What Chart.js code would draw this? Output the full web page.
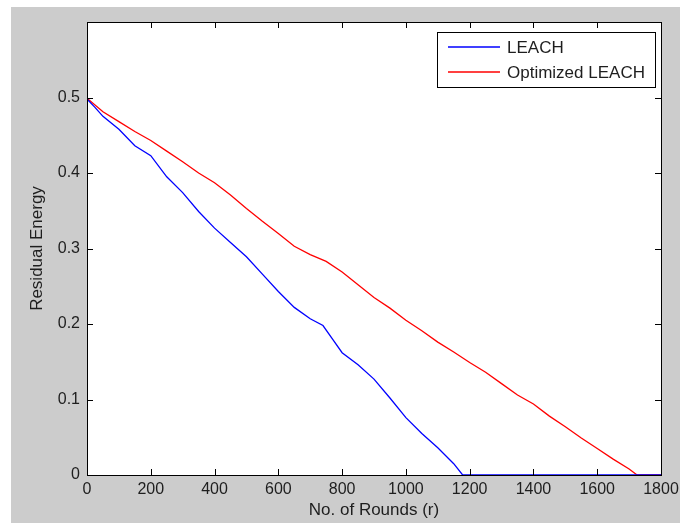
<!DOCTYPE html>
<html>
<head>
<meta charset="utf-8">
<script src="https://cdn.jsdelivr.net/npm/chart.js@4/dist/chart.umd.min.js"></script>
<style>
  html, body { margin: 0; padding: 0; background: #ffffff; }
  #wrap { width: 680px; height: 523px; }
</style>
</head>
<body>
<div id="wrap"><canvas id="plotCanvas" width="680" height="523"></canvas></div>
<script>
// rounds and residual energy
const leachRounds = [0, 25, 50, 100, 150, 200, 250, 300, 350, 400, 450, 500, 550, 600, 650, 700, 740, 770, 800, 850, 900, 950, 1000, 1050, 1100, 1150, 1178, 1800];
const leachEnergy = [0.498, 0.487, 0.475, 0.458, 0.436, 0.423, 0.395, 0.374, 0.349, 0.327, 0.308, 0.289, 0.266, 0.243, 0.222, 0.207, 0.198, 0.180, 0.162, 0.146, 0.127, 0.102, 0.076, 0.055, 0.036, 0.015, 0, 0];

const optRounds = [0, 50, 100, 150, 200, 250, 300, 350, 400, 450, 500, 550, 600, 650, 700, 750, 800, 850, 900, 950, 1000, 1050, 1100, 1150, 1200, 1250, 1300, 1350, 1400, 1450, 1500, 1550, 1600, 1650, 1700, 1725, 1800];
const optEnergy = [0.499, 0.481, 0.468, 0.455, 0.443, 0.429, 0.415, 0.400, 0.387, 0.371, 0.353, 0.336, 0.320, 0.303, 0.292, 0.283, 0.269, 0.252, 0.235, 0.221, 0.205, 0.191, 0.176, 0.163, 0.149, 0.136, 0.121, 0.106, 0.094, 0.078, 0.064, 0.049, 0.035, 0.021, 0.008, 0, 0];

const seriesLabels = ['LEACH', 'Optimized LEACH'];
const seriesColors = ['#0000ff', '#ff0000'];

const xTitle = 'No. of Rounds (r)';
const yTitle = 'Residual Energy';

const FONT = "'Liberation Sans', Arial, sans-serif";
const TEXT = '#1e1e1e';

function toPoints(xs, ys) {
    return xs.map((x, i) => ({ x: x, y: ys[i] }));
}

// figure background: white strip on top/left, MATLAB grey elsewhere
const figureBg = {
    id: 'figureBg',
    beforeDraw(chart) {
        const ctx = chart.ctx;
        ctx.save();
        ctx.fillStyle = '#ffffff';
        ctx.fillRect(0, 0, chart.width, chart.height);
        ctx.fillStyle = '#cccccc';
        ctx.fillRect(11, 7, chart.width - 11, chart.height - 7);
        const a = chart.chartArea;
        ctx.fillStyle = '#ffffff';
        ctx.fillRect(a.left, a.top, a.right - a.left, a.bottom - a.top);
        ctx.restore();
    }
};

// axes box with inward ticks on all four sides, plus the legend box
const axesBox = {
    id: 'axesBox',
    afterDraw(chart) {
        const ctx = chart.ctx;
        const a = chart.chartArea;
        const xs = chart.scales.x;
        const ys = chart.scales.y;
        ctx.save();
        ctx.strokeStyle = '#000000';
        ctx.lineWidth = 1;
        ctx.beginPath();
        xs.ticks.forEach(t => {
            const px = Math.round(xs.getPixelForValue(t.value)) + 0.5;
            ctx.moveTo(px, a.bottom);
            ctx.lineTo(px, a.bottom - 6);
            ctx.moveTo(px, a.top);
            ctx.lineTo(px, a.top + 6);
        });
        ys.ticks.forEach(t => {
            const py = Math.round(ys.getPixelForValue(t.value)) + 0.5;
            ctx.moveTo(a.left, py);
            ctx.lineTo(a.left + 6, py);
            ctx.moveTo(a.right, py);
            ctx.lineTo(a.right - 6, py);
        });
        ctx.stroke();
        ctx.strokeRect(Math.round(a.left) + 0.5, Math.round(a.top) + 0.5,
            Math.round(a.right - a.left), Math.round(a.bottom - a.top));

        // legend
        const lx = 437, ly = 32, lw = 218, lh = 55;
        ctx.fillStyle = '#ffffff';
        ctx.fillRect(lx, ly, lw, lh);
        ctx.strokeRect(lx + 0.5, ly + 0.5, lw, lh);
        ctx.font = '17px ' + FONT;
        ctx.textBaseline = 'middle';
        ctx.textAlign = 'left';
        chart.data.datasets.forEach((ds, i) => {
            const yy = 47 + i * 25;
            ctx.strokeStyle = ds.borderColor;
            ctx.lineWidth = 1.3;
            ctx.beginPath();
            ctx.moveTo(448, yy);
            ctx.lineTo(500, yy);
            ctx.stroke();
            ctx.fillStyle = TEXT;
            ctx.fillText(ds.label, 507, yy + 1);
        });
        ctx.restore();
    }
};

const plotCtx = document.getElementById('plotCanvas').getContext('2d');

new Chart(plotCtx, {
    type: 'scatter',
    data: {
        datasets: [
            {
                label: seriesLabels[0],
                data: toPoints(leachRounds, leachEnergy),
                borderColor: seriesColors[0],
                backgroundColor: seriesColors[0],
                showLine: true,
                borderWidth: 1.3,
                pointRadius: 0,
                tension: 0
            },
            {
                label: seriesLabels[1],
                data: toPoints(optRounds, optEnergy),
                borderColor: seriesColors[1],
                backgroundColor: seriesColors[1],
                showLine: true,
                borderWidth: 1.3,
                pointRadius: 0,
                tension: 0
            }
        ]
    },
    options: {
        responsive: false,
        animation: false,
        devicePixelRatio: 1,
        layout: { padding: { left: 11, top: 22, right: 19, bottom: 0 } },
        plugins: {
            legend: { display: false },
            tooltip: { enabled: false }
        },
        scales: {
            x: {
                type: 'linear',
                min: 0,
                max: 1800,
                grid: { display: false, drawTicks: false },
                border: { display: false },
                ticks: {
                    stepSize: 200,
                    padding: 5,
                    color: TEXT,
                    maxRotation: 0,
                    font: { family: FONT, size: 16 },
                    callback: (v) => String(v)
                },
                title: {
                    display: true,
                    text: xTitle,
                    color: TEXT,
                    padding: { top: 0, bottom: 2 },
                    font: { family: FONT, size: 17 }
                },
                afterFit(scale) {
                    scale.height = 48;
                    scale.paddingLeft = 0;
                    scale.paddingRight = 0;
                }
            },
            y: {
                min: 0,
                max: 0.6,
                grid: { display: false, drawTicks: false },
                border: { display: false },
                ticks: {
                    stepSize: 0.1,
                    padding: 7,
                    color: TEXT,
                    font: { family: FONT, size: 16 },
                    callback: (v) => (Math.abs(v - 0.6) < 1e-9 ? '' : (Math.round(v * 10) / 10).toString())
                },
                title: {
                    display: true,
                    text: yTitle,
                    color: TEXT,
                    padding: { top: 16, bottom: 0 },
                    font: { family: FONT, size: 17 }
                },
                afterFit(scale) {
                    scale.width = 76;
                    scale.paddingTop = 0;
                    scale.paddingBottom = 0;
                }
            }
        }
    },
    plugins: [figureBg, axesBox]
});
</script>
</body>
</html>
